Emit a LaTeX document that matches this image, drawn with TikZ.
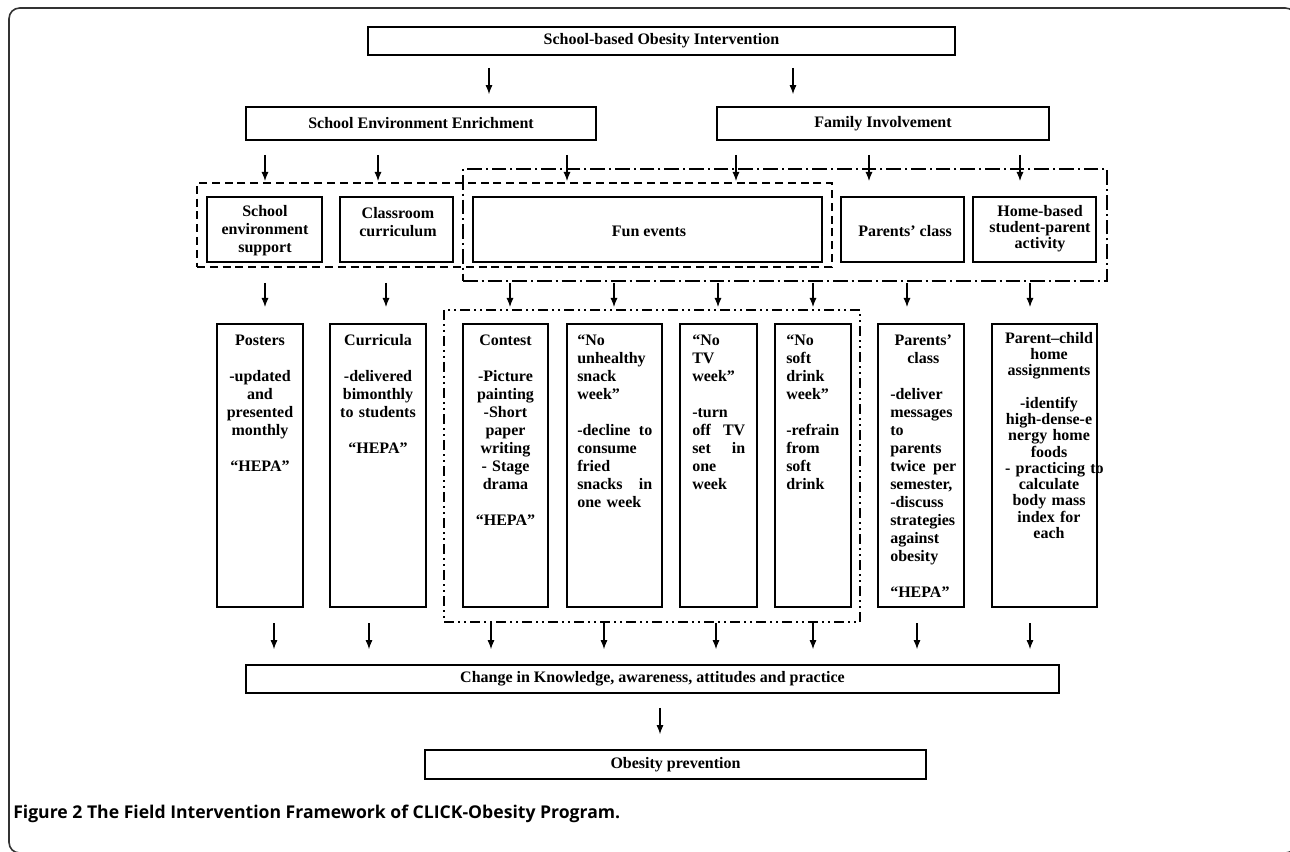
\documentclass[tikz,border=0pt]{standalone}
\usepackage{fontspec}
\setmainfont{Liberation Serif}
\newfontfamily\capfont{Open Sans}
\usetikzlibrary{arrows.meta,fit,calc}
\begin{document}
\begin{tikzpicture}[x=0.75pt,y=-0.75pt,
  box/.style={draw, line width=1.3pt, inner sep=0pt},
  tbox/.style={draw, line width=1.5pt, inner sep=0pt},
  lab/.style={font=\fontsize{12}{13.5}\selectfont\bfseries, align=center, inner sep=0pt},
  ttxt/.style={lab, anchor=north, yshift=-7pt},
  ltxt/.style={lab, align=left, anchor=north west, yshift=-7pt},
  arr/.style={line width=0.8pt, -{Latex[length=6.75pt,width=5.25pt]}},
  grpdash/.style={draw, line width=1.3pt, inner sep=0pt, dash pattern=on 6pt off 3.6pt},
  grpdd/.style={draw, line width=1.3pt, inner sep=0pt, dash pattern=on 11pt off 3pt on 1.5pt off 3pt},
  grpddd/.style={draw, line width=1.3pt, inner sep=0pt, dash pattern=on 7.5pt off 3pt on 1.5pt off 3pt on 1.5pt off 3pt},
  r1/.style={arr, shorten <=9pt, shorten >=9pt},
  r2/.style={arr, shorten <=10.5pt, shorten >=11.25pt},
  r3/.style={arr, shorten <=15pt, shorten >=12pt},
  r4/.style={arr, shorten <=11.25pt, shorten >=11.25pt},
]
\useasboundingbox (0,0) rectangle (1290,852);
\draw[line width=1.2pt, black!80, rounded corners=8pt] (9,8) rectangle (1296,853);

% groups
\node[grpdash, fit={(197,183)(832,267)}] (gA) {};
\node[grpdd, fit={(463,169)(1107,281)}] (gB) {};
\node[grpddd, fit={(444,310)(860,622)}] (gC) {};

% top levels
\node[box, fit={(368,27)(955,55)}] (top) {};
\node[box, fit={(246,107)(596,140)}] (see) {};
\node[box, fit={(717,107)(1049,140)}] (fam) {};
\node[lab] (top-t) at (top.center) {School-based Obesity Intervention};
\node[lab] (see-t) at (see.center) {School Environment Enrichment};
\node[lab] (fam-t) at (fam.center) {Family Involvement};

% second level
\node[tbox, fit={(207,197)(322,262)}] (ses) {};
\node[tbox, fit={(340,197)(453,262)}] (cls) {};
\node[tbox, fit={(473,197)(822,262)}] (fun) {};
\node[tbox, fit={(841,197)(964,262)}] (par) {};
\node[tbox, fit={(973,197)(1096,262)}] (home) {};
\node[lab] (ses-t) at (265,231) {School\\environment\\support};
\node[lab] (cls-t) at (398,222) {Classroom\\curriculum};
\node[lab] (fun-t) at (649,231) {Fun events};
\node[lab] (par-t) at (905,231) {Parents’ class};
\node[lab, font=\fontsize{12}{12}\selectfont\bfseries] (home-t) at (1040,229) {Home-based\\student-parent\\activity};

% tall boxes
\node[tbox, fit={(217,324)(303,607)}] (post) {};
\node[tbox, fit={(330,324)(426,607)}] (curr) {};
\node[tbox, fit={(463,324)(548,607)}] (cont) {};
\node[tbox, fit={(567,324)(662,607)}] (unh) {};
\node[tbox, fit={(680,324)(757,607)}] (notv) {};
\node[tbox, fit={(775,324)(851,607)}] (nosd) {};
\node[tbox, fit={(878,324)(964,607)}] (parc) {};
\node[tbox, fit={(992,324)(1097,607)}] (pch) {};

\node[ttxt, text width=57pt] (post-t) at (post.north) {\strut Posters\\~\\-updated\\and\\presented\\monthly\\~\\“HEPA”};
\node[ttxt, text width=63pt] (curr-t) at (curr.north) {\strut Curricula\\~\\-delivered\\bimonthly\\to students\\~\\“HEPA”};
\node[ttxt, text width=56pt] (cont-t) at (cont.north) {\strut Contest\\~\\-Picture\\painting\\-Short\\paper\\writing\\- Stage\\drama\\~\\“HEPA”};
\node[ltxt, text width=56.25pt, xshift=8.25pt] (unh-t) at (unh.north west) {\strut “No\\unhealthy\\snack\\week”\\~\\-decline\hfill to\\consume\\fried\\snacks\hfill in\\one week};
\node[ltxt, text width=39.75pt, xshift=9.75pt] (notv-t) at (notv.north west) {\strut “No\\TV\\week”\\~\\-turn\\off\hfill TV\\set\hfill in\\one\\week};
\node[ltxt, text width=42pt, xshift=9pt] (nosd-t) at (nosd.north west) {\strut “No\\soft\\drink\\week”\\~\\-refrain\\from\\soft\\drink};
\node[ltxt, text width=49.5pt, xshift=9.75pt] (parc-t) at (parc.north west) {\strut\makebox[\linewidth]{Parents’}\\\makebox[\linewidth]{class}\\~\\-deliver\\messages\\to\\parents\\twice\hfill per\\semester,\\-discuss\\strategies\\against\\obesity\\~\\“HEPA”};
\node[ttxt, font=\fontsize{12}{12.2}\selectfont\bfseries, text width=66pt, xshift=3.4pt, yshift=0.55pt] (pch-t) at (pch.north) {\strut Parent–child\\home\\assignments\\~\\-identify\\\mbox{high-dense-e}\\nergy home\\foods\\\mbox{- practicing to}\\calculate\\body mass\\index for\\each};

% bottom
\node[box, fit={(246,665)(1059,693)}] (chg) {};
\node[box, fit={(425,750)(926,779)}] (obp) {};
\node[lab] (chg-t) at (chg.center) {Change in Knowledge, awareness, attitudes and practice};
\node[lab] (obp-t) at (obp.center) {Obesity prevention};

% arrows row 1
\draw[r1] (top.south -| 489,0) -- (see.north -| 489,0);
\draw[r1] (top.south -| 793,0) -- (fam.north -| 793,0);
% row 2
\draw[r2] (see.south -| 265,0) -- (ses.north -| 265,0);
\draw[r2] (see.south -| 378,0) -- (cls.north -| 378,0);
\draw[r2] (see.south -| 567,0) -- (fun.north -| 567,0);
\draw[r2] (fam.south -| 736,0) -- (fun.north -| 736,0);
\draw[r2] (fam.south -| 869,0) -- (par.north -| 869,0);
\draw[r2] (fam.south -| 1020,0) -- (home.north -| 1020,0);
% row 3
\draw[r3] (ses.south -| 265,0) -- (post.north -| 265,0);
\draw[r3] (cls.south -| 386,0) -- (curr.north -| 386,0);
\draw[r3] (fun.south -| 510,0) -- (cont.north -| 510,0);
\draw[r3] (fun.south -| 614,0) -- (unh.north -| 614,0);
\draw[r3] (fun.south -| 718,0) -- (notv.north -| 718,0);
\draw[r3] (fun.south -| 813,0) -- (nosd.north -| 813,0);
\draw[r3] (par.south -| 907,0) -- (parc.north -| 907,0);
\draw[r3] (home.south -| 1030,0) -- (pch.north -| 1030,0);
% row 4
\draw[r4] (post.south -| 274,0) -- (chg.north -| 274,0);
\draw[r4] (curr.south -| 369,0) -- (chg.north -| 369,0);
\draw[r4] (cont.south -| 491,0) -- (chg.north -| 491,0);
\draw[r4] (unh.south -| 604,0) -- (chg.north -| 604,0);
\draw[r4] (notv.south -| 716,0) -- (chg.north -| 716,0);
\draw[r4] (nosd.south -| 813,0) -- (chg.north -| 813,0);
\draw[r4] (parc.south -| 917,0) -- (chg.north -| 917,0);
\draw[r4] (pch.south -| 1030,0) -- (chg.north -| 1030,0);
% row 5
\draw[arr, shorten <=10.5pt, shorten >=11.25pt] (chg.south -| 660,0) -- (obp.north -| 660,0);

% caption
\node[anchor=base west, inner sep=0pt, font=\capfont\bfseries\fontsize{13.2}{15}\selectfont] (cap) at (13,818) {Figure 2 The Field Intervention Framework of CLICK-Obesity Program.};
\end{tikzpicture}
\end{document}
